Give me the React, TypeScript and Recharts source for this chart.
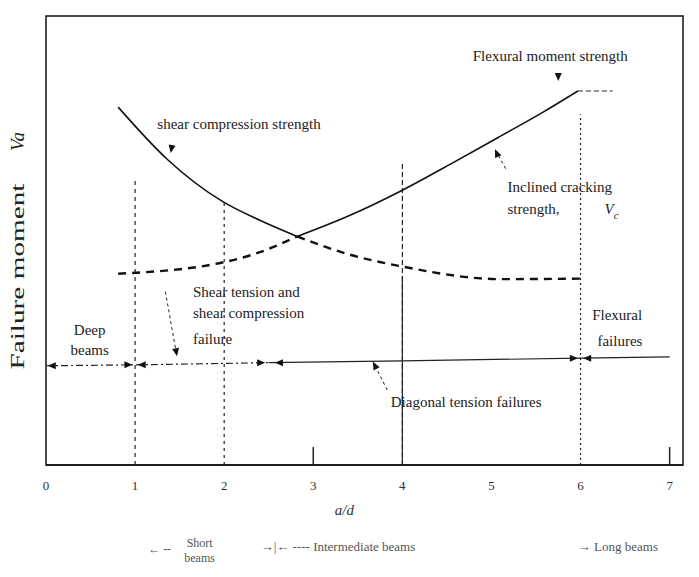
import React from 'react';
import { ComposedChart, Line, XAxis, YAxis, ReferenceLine, ReferenceDot, ReferenceArea } from 'recharts';

// a/d ticks
const X_TICKS = [0, 1, 2, 3, 4, 5, 6, 7];

// curves (y is a relative failure moment, 0..100)
const shearCompSolid = [
  { x: 0.81, y: 79.7 },
  { x: 1.36, y: 68.1 },
  { x: 1.98, y: 58.7 },
  { x: 2.4, y: 54.5 },
  { x: 2.82, y: 50.9 },
];
const shearCompDashed = [
  { x: 2.82, y: 50.9 },
  { x: 3.4, y: 46.9 },
  { x: 4.0, y: 44.2 },
  { x: 5.1, y: 41.4 },
  { x: 6.0, y: 41.5 },
];
const inclinedSolid = [
  { x: 2.82, y: 50.9 },
  { x: 3.4, y: 55.5 },
  { x: 4.0, y: 61.2 },
  { x: 4.54, y: 67.0 },
  { x: 5.07, y: 72.9 },
  { x: 5.58, y: 78.6 },
  { x: 5.97, y: 83.3 },
];
const inclinedDashed = [
  { x: 0.81, y: 42.6 },
  { x: 1.98, y: 45.1 },
  { x: 2.4, y: 47.4 },
  { x: 2.82, y: 50.9 },
];
const flexuralCap = [
  { x: 5.97, y: 83.3 },
  { x: 6.36, y: 83.3 },
];
const failureLineLeft = [
  { x: 0, y: 22.1 },
  { x: 1, y: 22.3 },
  { x: 2.5, y: 22.8 },
];
const failureLineRight = [
  { x: 2.5, y: 22.8 },
  { x: 4, y: 23.2 },
  { x: 6, y: 23.8 },
  { x: 7, y: 24.1 },
];

// vertical dividers: x, top, dashed
const dividers = [
  { x: 1, top: 64.1, dash: '4 4' },
  { x: 2, top: 58.7, dash: '3 4' },
  { x: 4, top: 67.6, dash: '5 3' },
  { x: 6, top: 78.1, dash: '2 3' },
];

// leader lines
const leaders = [
  { x1: 1.34, y1: 38.6, x2: 1.47, y2: 24.2 },
  { x1: 3.83, y1: 16.7, x2: 3.67, y2: 23.0 },
  { x1: 5.16, y1: 66.0, x2: 5.04, y2: 70.3 },
];

// arrowheads: tip position and direction (deg, screen)
const arrows = [
  { x: 0.02, y: 22.1, a: 180 },
  { x: 0.97, y: 22.3, a: 0 },
  { x: 1.03, y: 22.3, a: 180 },
  { x: 2.46, y: 22.8, a: 0 },
  { x: 2.57, y: 22.8, a: 180 },
  { x: 5.97, y: 23.8, a: 0 },
  { x: 6.03, y: 23.8, a: 180 },
  { x: 1.47, y: 24.2, a: 80 },
  { x: 3.67, y: 23.0, a: -117 },
  { x: 5.04, y: 70.3, a: -114 },
  { x: 1.4, y: 69.5, a: 100 },
  { x: 5.75, y: 85.5, a: 90 },
];

// text labels in data coords
const labels = [
  { x: 5.66, y: 90, t: 'Flexural moment strength', anchor: 'middle' },
  { x: 1.25, y: 74.8, t: 'shear compression strength', anchor: 'start' },
  { x: 5.18, y: 60.7, t: 'Inclined cracking', anchor: 'start' },
  { x: 5.18, y: 55.8, t: 'strength, ', anchor: 'start' },
  { x: 1.65, y: 37.5, t: 'Shear tension and', anchor: 'start' },
  { x: 1.65, y: 32.8, t: 'shear compression', anchor: 'start' },
  { x: 1.65, y: 27.0, t: 'failure', anchor: 'start' },
  { x: 0.49, y: 29.0, t: 'Deep', anchor: 'middle' },
  { x: 0.49, y: 24.6, t: 'beams', anchor: 'middle' },
  { x: 6.13, y: 32.4, t: 'Flexural', anchor: 'start' },
  { x: 6.19, y: 26.6, t: 'failures', anchor: 'start' },
  { x: 3.87, y: 12.9, t: 'Diagonal tension failures', anchor: 'start' },
];

const FONT = '"Liberation Serif", "DejaVu Serif", serif';

const arrowShape = (angle: number) => (p: any) => {
  const r = (angle * Math.PI) / 180;
  const c = Math.cos(r);
  const s = Math.sin(r);
  const L = 8;
  const W = 3.5;
  const bx = p.cx - c * L;
  const by = p.cy - s * L;
  const pts = `${p.cx},${p.cy} ${bx - s * W},${by + c * W} ${bx + s * W},${by - c * W}`;
  return <polygon points={pts} fill="#111" />;
};

const textShape = (t: string, anchor: string) => (p: any) => (
  <text x={p.cx} y={p.cy} textAnchor={anchor as any} fontFamily={FONT} fontSize={15} fill="#222">
    {t}
  </text>
);

export default function App() {
  return (
    <div style={{ position: 'absolute', left: 0, top: 0 }}>
      <ComposedChart width={699} height={577} margin={{ top: 16, right: 16, bottom: 82, left: 46 }}>
        <XAxis
          dataKey="x"
          type="number"
          domain={[0, 7.15]}
          ticks={X_TICKS}
          allowDataOverflow
          tickLine={false}
          axisLine={{ stroke: '#111', strokeWidth: 1.5 }}
          tick={{ fill: '#333', fontSize: 13, fontFamily: FONT }}
          tickMargin={10}
          height={30}
        />
        <YAxis type="number" domain={[0, 100]} hide allowDataOverflow />

        <ReferenceArea x1={0} x2={7.15} y1={0} y2={100} fill="none" stroke="#111" strokeWidth={1.5} ifOverflow="visible" />

        {dividers.map((d) => (
          <ReferenceLine
            key={`d${d.x}`}
            segment={[{ x: d.x, y: 0 }, { x: d.x, y: d.top }]}
            stroke="#222"
            strokeDasharray={d.dash}
            strokeWidth={1.2}
          />
        ))}
        <ReferenceLine segment={[{ x: 4, y: 0 }, { x: 4, y: 42 }]} stroke="#222" strokeWidth={1.2} />
        <ReferenceLine segment={[{ x: 3, y: 0 }, { x: 3, y: 4 }]} stroke="#222" strokeWidth={1.5} />
        <ReferenceLine segment={[{ x: 7, y: 0 }, { x: 7, y: 4 }]} stroke="#222" strokeWidth={1.5} />

        {leaders.map((l, i) => (
          <ReferenceLine
            key={`l${i}`}
            segment={[{ x: l.x1, y: l.y1 }, { x: l.x2, y: l.y2 }]}
            stroke="#222"
            strokeDasharray="3 3"
            strokeWidth={1}
          />
        ))}

        <Line data={shearCompSolid} dataKey="y" type="monotone" stroke="#111" strokeWidth={1.6} dot={false} activeDot={false} isAnimationActive={false} />
        <Line data={inclinedSolid} dataKey="y" type="monotone" stroke="#111" strokeWidth={1.6} dot={false} activeDot={false} isAnimationActive={false} />
        <Line data={shearCompDashed} dataKey="y" type="monotone" stroke="#111" strokeWidth={2.4} strokeDasharray="8 6" dot={false} activeDot={false} isAnimationActive={false} />
        <Line data={inclinedDashed} dataKey="y" type="monotone" stroke="#111" strokeWidth={2.4} strokeDasharray="8 6" dot={false} activeDot={false} isAnimationActive={false} />
        <Line data={flexuralCap} dataKey="y" type="linear" stroke="#222" strokeWidth={1.2} strokeDasharray="5 3" dot={false} activeDot={false} isAnimationActive={false} />
        <Line data={failureLineLeft} dataKey="y" type="linear" stroke="#222" strokeWidth={1.2} strokeDasharray="7 3 2 3" dot={false} activeDot={false} isAnimationActive={false} />
        <Line data={failureLineRight} dataKey="y" type="linear" stroke="#222" strokeWidth={1.2} dot={false} activeDot={false} isAnimationActive={false} />

        {arrows.map((a, i) => (
          <ReferenceDot key={`a${i}`} x={a.x} y={a.y} r={0} shape={arrowShape(a.a)} ifOverflow="visible" />
        ))}

        {labels.map((l, i) => (
          <ReferenceDot key={`t${i}`} x={l.x} y={l.y} r={0} shape={textShape(l.t, l.anchor)} ifOverflow="visible" />
        ))}
        <ReferenceDot
          x={6.27}
          y={55.8}
          r={0}
          ifOverflow="visible"
          shape={(p: any) => (
            <text x={p.cx} y={p.cy} fontFamily={FONT} fontSize={15} fill="#222">
              <tspan fontStyle="italic">V</tspan>
              <tspan fontStyle="italic" fontSize={11} dy={5}>c</tspan>
            </text>
          )}
        />

        {/* y-axis title, stretched like the scan */}
        <ReferenceDot
          x={0}
          y={50}
          r={0}
          ifOverflow="visible"
          shape={(p: any) => {
            const tx = p.cx - 22;
            const y1 = p.cy + 36;
            const y2 = p.cy - 99;
            return (
              <g fontFamily={FONT} fontSize={19} fill="#222">
                <text
                  x={tx}
                  y={y1}
                  transform={`rotate(-90 ${tx} ${y1})`}
                  textAnchor="middle"
                  textLength={186}
                  lengthAdjust="spacingAndGlyphs"
                >
                  Failure moment
                </text>
                <text x={tx} y={y2} transform={`rotate(-90 ${tx} ${y2})`} textAnchor="middle" fontStyle="italic">
                  Va
                </text>
              </g>
            );
          }}
        />

        {/* x-axis title and beam classes */}
        <ReferenceDot
          x={3.35}
          y={0}
          r={0}
          ifOverflow="visible"
          shape={(p: any) => (
            <text x={p.cx} y={p.cy + 50} textAnchor="middle" fontFamily={FONT} fontSize={15} fontStyle="italic" fill="#333">
              a/d
            </text>
          )}
        />
        <ReferenceDot
          x={1.5}
          y={0}
          r={0}
          ifOverflow="visible"
          shape={(p: any) => (
            <g fontFamily={FONT} fontSize={12} fill="#555">
              <text x={p.cx - 20} y={p.cy + 88} textAnchor="middle">{'\u2190 --'}</text>
              <text x={p.cx + 20} y={p.cy + 82} textAnchor="middle">Short</text>
              <text x={p.cx + 20} y={p.cy + 97} textAnchor="middle">beams</text>
            </g>
          )}
        />
        <ReferenceDot
          x={2.5}
          y={0}
          r={0}
          ifOverflow="visible"
          shape={(p: any) => (
            <text x={p.cx - 8} y={p.cy + 86} fontFamily={FONT} fontSize={13} fill="#555">
              {'\u2192|\u2190 ----  Intermediate beams'}
            </text>
          )}
        />
        <ReferenceDot
          x={5.97}
          y={0}
          r={0}
          ifOverflow="visible"
          shape={(p: any) => (
            <text x={p.cx} y={p.cy + 86} fontFamily={FONT} fontSize={13} fill="#555">
              {'\u2192 Long beams'}
            </text>
          )}
        />
      </ComposedChart>
    </div>
  );
}
